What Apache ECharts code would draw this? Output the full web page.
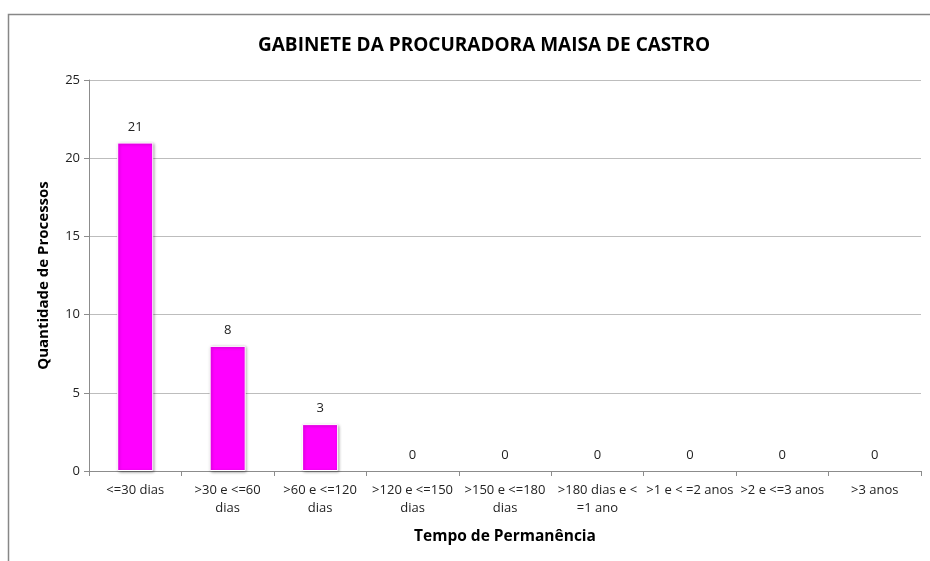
<!DOCTYPE html>
<html>
<head>
<meta charset="utf-8">
<script src="https://cdn.jsdelivr.net/npm/echarts@6/dist/echarts.min.js"></script>
<style>
  html, body { margin: 0; padding: 0; background: #fff; }
  #main { width: 930px; height: 561px; }
</style>
</head>
<body>
<div id="main"></div>
<script>
// dados
var categorias = ['<=30 dias', '>30 e <=60\ndias', '>60 e <=120\ndias', '>120 e <=150\ndias',
    '>150 e <=180\ndias', '>180 dias e <\n=1 ano', '>1 e < =2 anos', '>2 e <=3 anos', '>3 anos']
var processos = [21, 8, 3, 0, 0, 0, 0, 0, 0]
var yMin = 0, yMax = 25, yPasso = 5

var fonte = '"Open Sans", "Liberation Sans", sans-serif'
var chart = echarts.init(document.getElementById('main'))

// barras com valor 0 sem sombra
var barras = processos.map(function (v) {
    return v > 0 ? v : { value: v, itemStyle: { shadowBlur: 0, shadowOffsetX: 0, shadowOffsetY: 0, borderWidth: 0, shadowColor: 'transparent' } }
})

var opcoes = {
    animation: false,
    textStyle: { fontFamily: fonte },
    graphic: [{
        type: 'rect',
        shape: { x: 8.5, y: 14.5, width: 940, height: 600 },
        style: { fill: 'none', stroke: '#878787', lineWidth: 1.5 },
        silent: true
    }],
    title: {
        text: 'GABINETE DA PROCURADORA MAISA DE CASTRO',
        left: 479, top: 31, textAlign: 'center',
        textStyle: { fontSize: 19, fontWeight: 'bold', color: '#000', fontFamily: fonte }
    },
    grid: { left: 89, right: 9, top: 80, bottom: 90, containLabel: false },
    xAxis: {
        type: 'category',
        data: categorias,
        name: 'Tempo de Permanência',
        nameLocation: 'middle',
        nameGap: 58,
        nameTextStyle: { fontSize: 15.5, fontWeight: 'bold', color: '#000' },
        axisLine: { lineStyle: { color: '#8c8c8c', width: 1 } },
        axisTick: { show: true, alignWithLabel: false, length: 5, lineStyle: { color: '#8c8c8c' } },
        axisLabel: { fontSize: 13, color: '#222', margin: 10, lineHeight: 18, interval: 0 }
    },
    yAxis: {
        type: 'value',
        min: yMin, max: yMax, interval: yPasso,
        name: 'Quantidade de Processos',
        nameLocation: 'middle',
        nameGap: 38,
        nameTextStyle: { fontSize: 15, fontWeight: 'bold', color: '#000' },
        axisLine: { show: true, lineStyle: { color: '#8c8c8c', width: 1 } },
        axisTick: { show: true, length: 5, lineStyle: { color: '#8c8c8c' } },
        axisLabel: { fontSize: 13, color: '#222', margin: 9 },
        splitLine: { lineStyle: { color: '#bdbdbd', width: 1 } }
    },
    series: [{
        type: 'bar',
        data: barras,
        barWidth: '39%',
        itemStyle: {
            color: '#ff00ff',
            borderColor: '#fff',
            borderWidth: 1,
            shadowBlur: 3,
            shadowColor: 'rgba(0,0,0,0.35)',
            shadowOffsetX: 1,
            shadowOffsetY: 1
        },
        label: {
            show: true,
            position: 'top',
            distance: 9,
            fontSize: 13,
            color: '#222'
        }
    }]
}
chart.setOption(opcoes)
</script>
</body>
</html>
